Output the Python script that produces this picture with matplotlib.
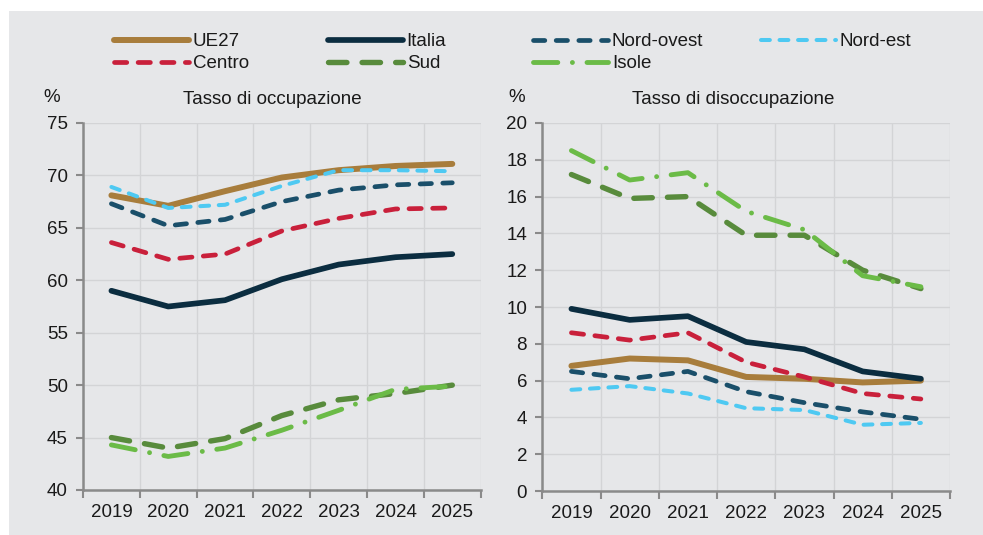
import numpy as np
import matplotlib
matplotlib.use("Agg")
import matplotlib.pyplot as plt
from matplotlib.patches import Rectangle

plt.rcParams['font.family'] = ['Liberation Sans', 'DejaVu Sans']

## dati
anni = ["2019", "2020", "2021", "2022", "2023", "2024", "2025"]

# tasso di occupazione
occ_ue27 = [68.1, 67.1, 68.5, 69.8, 70.5, 70.9, 71.1]
occ_italia = [59.0, 57.5, 58.1, 60.1, 61.5, 62.2, 62.5]
occ_nordovest = [67.3, 65.2, 65.8, 67.5, 68.6, 69.1, 69.3]
occ_nordest = [68.9, 66.9, 67.2, 69.0, 70.5, 70.5, 70.4]
occ_centro = [63.6, 62.0, 62.5, 64.7, 65.9, 66.8, 66.9]
occ_sud = [45.0, 44.0, 44.9, 47.1, 48.6, 49.2, 50.0]
occ_isole = [44.3, 43.2, 44.0, 45.7, 47.6, 49.6, 49.9]

# tasso di disoccupazione
dis_ue27 = [6.8, 7.2, 7.1, 6.2, 6.1, 5.9, 6.0]
dis_italia = [9.9, 9.3, 9.5, 8.1, 7.7, 6.5, 6.1]
dis_nordovest = [6.5, 6.1, 6.5, 5.4, 4.8, 4.3, 3.9]
dis_nordest = [5.5, 5.7, 5.3, 4.5, 4.4, 3.6, 3.7]
dis_centro = [8.6, 8.2, 8.6, 7.0, 6.2, 5.3, 5.0]
dis_sud = [17.2, 15.9, 16.0, 13.9, 13.9, 12.0, 11.0]
dis_isole = [18.5, 16.9, 17.3, 15.2, 14.2, 11.7, 11.1]

nomi = ["UE27", "Italia", "Nord-ovest", "Nord-est", "Centro", "Sud", "Isole"]
colori = ["#a87d3c", "#0b2d40", "#1a4f6a", "#4ec9f2", "#c9203b", "#588b3c", "#6bbb47"]
spessori = [4.3, 4.1, 3.4, 2.9, 3.4, 3.9, 3.5]
tratti = [None, None, (2.4, 2.4), (2.2, 2.4), (2.6, 2.4), (3.4, 2.8), (5.0, 3.0, 0.01, 3.0)]

SFONDO = "#e6e7e9"
GRIGLIA = "#d3d4d6"
ASSE = "#8a8a8a"

fig = plt.figure(figsize=(9.83, 5.35), dpi=100)
fig.patch.set_facecolor("white")
fig.patches.append(Rectangle((9/983, 0), 1, 1-11/535, transform=fig.transFigure,
                             facecolor=SFONDO, edgecolor="none", zorder=-10))

ax1 = fig.add_axes([83/983, 1-490/535, 397.7/983, 367/535])
ax2 = fig.add_axes([542.3/983, 1-491/535, 407.7/983, 368/535])

x = np.arange(len(anni))


def disegna(ax, serie, ymin, ymax, passo):
    ax.set_facecolor(SFONDO)
    linee = []
    for i in range(len(serie)):
        l, = ax.plot(x, serie[i], color=colori[i], lw=spessori[i],
                     solid_capstyle="round", dash_capstyle="round",
                     solid_joinstyle="round", label=nomi[i])
        if tratti[i] is not None:
            l.set_dashes(tratti[i])
        linee.append(l)
    ax.set_xlim(-0.5, len(anni)-0.5)
    ax.set_ylim(ymin, ymax)
    ax.set_yticks(np.arange(ymin, ymax+0.1, passo))
    ax.set_xticks(np.arange(-0.5, len(anni), 1))
    ax.set_xticklabels([])
    ax.set_xticks(x, minor=True)
    ax.set_xticklabels(anni, minor=True)
    ax.tick_params(axis="x", which="minor", length=0, pad=10, labelsize=13.5, colors="#1a1a1a")
    ax.tick_params(axis="x", which="major", length=6, width=1.5, color=ASSE)
    ax.tick_params(axis="y", length=5, width=1.5, color=ASSE, pad=6, labelsize=13.5, labelcolor="#1a1a1a")
    ax.grid(True, which="major", color=GRIGLIA, lw=1.0)
    ax.set_axisbelow(True)
    for s in ["top", "right"]:
        ax.spines[s].set_visible(False)
    for s in ["left", "bottom"]:
        ax.spines[s].set_color(ASSE)
        ax.spines[s].set_linewidth(1.8)
    return linee


linee = disegna(ax1, [occ_ue27, occ_italia, occ_nordovest, occ_nordest, occ_centro, occ_sud, occ_isole], 40, 75, 5)
disegna(ax2, [dis_ue27, dis_italia, dis_nordovest, dis_nordest, dis_centro, dis_sud, dis_isole], 0, 20, 2)

## titoli e unita
fig.text(272/983, 1-100/535, "Tasso di occupazione", ha="center", va="center", fontsize=13.5, color="#1a1a1a")
fig.text(733/983, 1-100/535, "Tasso di disoccupazione", ha="center", va="center", fontsize=13.5, color="#1a1a1a")
fig.text(52/983, 1-98/535, "%", ha="center", va="center", fontsize=13.5, color="#1a1a1a")
fig.text(517/983, 1-98/535, "%", ha="center", va="center", fontsize=13.5, color="#1a1a1a")

## legenda: una colonna alla volta
colonne = [[0, 4], [1, 5], [2, 6], [3]]
xcol = [114, 328, 533, 761]
for c in range(len(colonne)):
    h = [linee[i] for i in colonne[c]]
    leg = fig.legend(h, [nomi[i] for i in colonne[c]], loc="upper left",
                     bbox_to_anchor=(xcol[c]/983, 1-33/535), bbox_transform=fig.transFigure,
                     frameon=False, borderpad=0, borderaxespad=0, handlelength=4.0,
                     handletextpad=0.2, labelspacing=0.28, fontsize=13.5)
    for t in leg.get_texts():
        t.set_color("#1a1a1a")

fig.savefig("out.png", dpi=100)
